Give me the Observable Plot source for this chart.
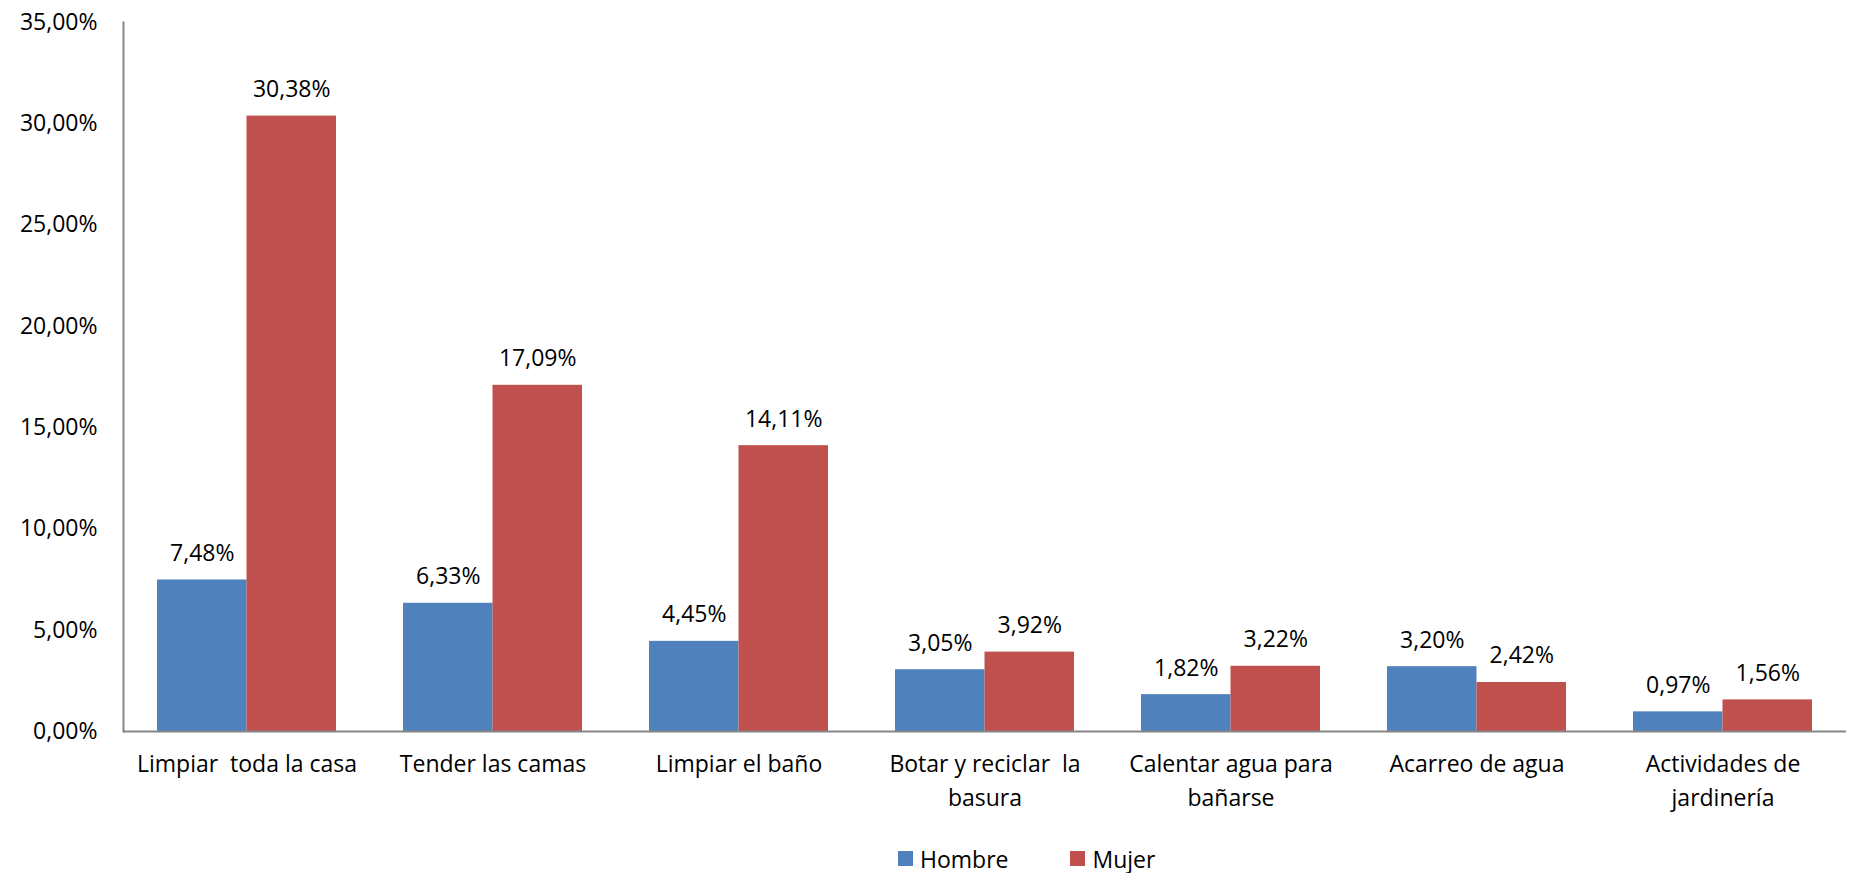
<!DOCTYPE html>
<html><head><meta charset="utf-8">
<script src="https://cdn.jsdelivr.net/npm/d3@7"></script>
<script src="https://cdn.jsdelivr.net/npm/@observablehq/plot@0.6"></script>
<style>
body{margin:0;background:#fff;font-family:"Open Sans",sans-serif;}
#chart svg{display:block;}
#legend{height:37px;display:flex;align-items:center;padding-left:898px;font-size:23px;color:#000;}
#legend .item{display:flex;align-items:center;}
#legend .sw{width:15px;height:15px;margin-right:7px;}
</style></head><body>
<div id="chart"></div>
<div id="legend"></div>
<script>
const categories = ["Limpiar  toda la casa","Tender las camas","Limpiar el baño","Botar y reciclar  la basura","Calentar agua para bañarse","Acarreo de agua","Actividades de jardinería"];
const tickLabels = ["Limpiar  toda la casa","Tender las camas","Limpiar el baño","Botar y reciclar  la\nbasura","Calentar agua para\nbañarse","Acarreo de agua","Actividades de\njardinería"];
const series = ["Hombre","Mujer"];
const hombre = [7.48,6.33,4.45,3.05,1.82,3.20,0.97];
const mujer = [30.38,17.09,14.11,3.92,3.22,2.42,1.56];
const yTicks = [0,5,10,15,20,25,30,35];
const colors = ["#4F81BD","#C0504D"];

const hData = categories.map((c,i)=>({category:c, series:series[0], value:hombre[i]}));
const mData = categories.map((c,i)=>({category:c, series:series[1], value:mujer[i]}));
const fmt = v => v.toFixed(2).replace(".",",")+"%";

function build(bw){
  return Plot.plot({
    width:1853, height:840, marginLeft:123, marginRight:7, marginTop:22, marginBottom:109,
    style:{fontFamily:'"Open Sans", sans-serif', fontSize:"23px", color:"#000", background:"#fff", overflow:"visible"},
    x:{domain:categories, paddingInner:0.273, paddingOuter:0.136, label:null},
    y:{domain:[0,35], label:null},
    marks:[
      Plot.barY(hData,{x:"category", y:"value", fill:colors[0], insetRight:bw/2}),
      Plot.barY(mData,{x:"category", y:"value", fill:colors[1], insetLeft:bw/2}),
      Plot.text(hData,{x:"category", y:"value", text:d=>fmt(d.value), dx:-bw/4, dy:-19, lineAnchor:"bottom", fill:"#000"}),
      Plot.text(mData,{x:"category", y:"value", text:d=>fmt(d.value), dx:bw/4, dy:-19, lineAnchor:"bottom", fill:"#000"}),
      Plot.ruleY([0],{stroke:"#868686", strokeWidth:2}),
      Plot.frame({anchor:"left", stroke:"#868686", strokeWidth:2}),
      Plot.axisY(yTicks,{tickFormat:fmt, tickSize:0, tickPadding:26, label:null, fill:"#000"}),
      Plot.axisX({tickSize:0, tickPadding:17, tickFormat:d=>tickLabels[categories.indexOf(d)], lineHeight:1.45, label:null, fill:"#000"})
    ]
  });
}
const probe = build(0);
const bw = probe.scale("x").bandwidth;
const chart = build(bw);
document.getElementById("chart").appendChild(chart);

const legend = document.getElementById("legend");
series.forEach((s,i)=>{
  const item = document.createElement("div");
  item.className="item";
  item.style.marginRight = i===0 ? "62px" : "0";
  const sw = document.createElement("div");
  sw.className="sw"; sw.style.background=colors[i];
  const t = document.createElement("span"); t.textContent=s;
  item.appendChild(sw); item.appendChild(t);
  legend.appendChild(item);
});
</script>
</body></html>
